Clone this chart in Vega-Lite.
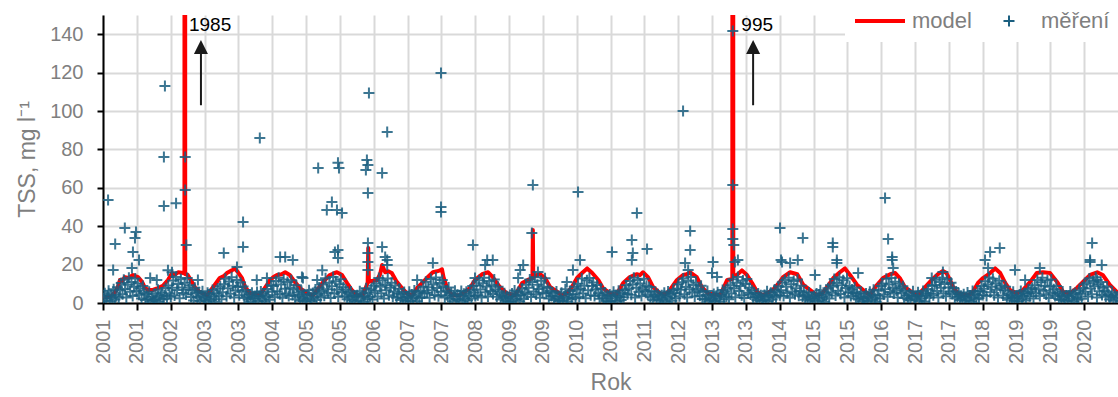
{
"$schema":"https://vega.github.io/schema/vega-lite/v6.json",
"autosize":"none","width":1015,"height":288,
"padding":{"left":103,"top":15,"right":0,"bottom":94},
"background":"white",
"config":{"view":{"stroke":null},"font":"Liberation Sans"},
"datasets":{
"model":[
{"x":2001.0,"y":3.5},{"x":2001.08,"y":3},{"x":2001.16,"y":3.5},{"x":2001.25,"y":6},{"x":2001.3,"y":9},{"x":2001.335,"y":12},{"x":2001.38,"y":11.5},{"x":2001.43,"y":13.5},{"x":2001.5,"y":13},{"x":2001.59,"y":14.6},{"x":2001.64,"y":14},{"x":2001.69,"y":13.5},{"x":2001.77,"y":11},{"x":2001.83,"y":7.8},{"x":2001.89,"y":6.8},{"x":2001.985,"y":6.8},
{"x":2002.08,"y":7.8},{"x":2002.18,"y":9},{"x":2002.28,"y":12},{"x":2002.36,"y":15.6},{"x":2002.42,"y":14.8},{"x":2002.48,"y":16},{"x":2002.58,"y":15.6},{"x":2002.605,"y":15.5},{"x":2002.612,"y":1985},{"x":2002.62,"y":15},{"x":2002.67,"y":14.6},{"x":2002.75,"y":11},{"x":2002.81,"y":8.3},{"x":2002.91,"y":5.7},
{"x":2003.05,"y":4},{"x":2003.2,"y":9.4},{"x":2003.3,"y":13},{"x":2003.38,"y":14},{"x":2003.44,"y":15.6},{"x":2003.54,"y":17},{"x":2003.6,"y":18},{"x":2003.66,"y":16},{"x":2003.74,"y":13},{"x":2003.8,"y":8.3},{"x":2003.9,"y":5},
{"x":2004.09,"y":4},{"x":2004.23,"y":9.4},{"x":2004.29,"y":12},{"x":2004.36,"y":13.5},{"x":2004.43,"y":14.6},{"x":2004.52,"y":15},{"x":2004.59,"y":16},{"x":2004.68,"y":14.6},{"x":2004.78,"y":11},{"x":2004.88,"y":7.8},
{"x":2005.02,"y":5},{"x":2005.14,"y":4},{"x":2005.22,"y":6.8},{"x":2005.34,"y":11},{"x":2005.47,"y":14.6},{"x":2005.55,"y":15.5},{"x":2005.61,"y":16},{"x":2005.71,"y":14.6},{"x":2005.81,"y":10.4},{"x":2005.9,"y":6.8},
{"x":2006.0,"y":4},{"x":2006.12,"y":4},{"x":2006.215,"y":10.5},{"x":2006.227,"y":28.6},{"x":2006.24,"y":11},{"x":2006.3,"y":11.5},{"x":2006.4,"y":12},{"x":2006.46,"y":15},{"x":2006.5,"y":19.8},{"x":2006.56,"y":16},{"x":2006.62,"y":16.5},{"x":2006.69,"y":15.6},{"x":2006.79,"y":11},{"x":2006.89,"y":7.8},{"x":2006.99,"y":5},
{"x":2007.09,"y":4},{"x":2007.19,"y":7.8},{"x":2007.29,"y":10.4},{"x":2007.38,"y":13},{"x":2007.5,"y":16},{"x":2007.58,"y":16.5},{"x":2007.64,"y":17},{"x":2007.68,"y":17.5},{"x":2007.71,"y":13.5},{"x":2007.78,"y":7.8},{"x":2007.88,"y":4},
{"x":2008.03,"y":4},{"x":2008.23,"y":7.8},{"x":2008.33,"y":12},{"x":2008.4,"y":13.5},{"x":2008.47,"y":15},{"x":2008.59,"y":16},{"x":2008.68,"y":13.5},{"x":2008.82,"y":8.3},{"x":2008.96,"y":5},
{"x":2009.12,"y":4},{"x":2009.26,"y":10.4},{"x":2009.37,"y":12},{"x":2009.462,"y":13},{"x":2009.47,"y":38},{"x":2009.478,"y":13.5},{"x":2009.54,"y":14.5},{"x":2009.61,"y":15},{"x":2009.71,"y":13},{"x":2009.81,"y":8.3},{"x":2009.9,"y":6.8},
{"x":2010.04,"y":4},{"x":2010.14,"y":5},{"x":2010.24,"y":8.3},{"x":2010.34,"y":13},{"x":2010.44,"y":15.6},{"x":2010.54,"y":18},{"x":2010.64,"y":15.6},{"x":2010.76,"y":12},{"x":2010.85,"y":7.8},{"x":2010.99,"y":5},
{"x":2011.12,"y":4.5},{"x":2011.25,"y":10.4},{"x":2011.38,"y":13.5},{"x":2011.52,"y":15},{"x":2011.58,"y":14.5},{"x":2011.64,"y":16},{"x":2011.74,"y":13.5},{"x":2011.84,"y":8.3},{"x":2011.98,"y":5},
{"x":2012.08,"y":4.5},{"x":2012.17,"y":6.8},{"x":2012.31,"y":12},{"x":2012.43,"y":14.6},{"x":2012.5,"y":15},{"x":2012.57,"y":16},{"x":2012.7,"y":13.5},{"x":2012.8,"y":8.3},{"x":2012.92,"y":5},
{"x":2013.05,"y":4.5},{"x":2013.16,"y":4},{"x":2013.3,"y":12},{"x":2013.4,"y":12.5},{"x":2013.41,"y":995},{"x":2013.42,"y":14},{"x":2013.49,"y":14.6},{"x":2013.59,"y":17},{"x":2013.69,"y":14.6},{"x":2013.79,"y":10.4},{"x":2013.89,"y":5.7},
{"x":2014.0,"y":4},{"x":2014.2,"y":6.8},{"x":2014.34,"y":11},{"x":2014.4,"y":13.5},{"x":2014.54,"y":16},{"x":2014.68,"y":15},{"x":2014.8,"y":9.4},{"x":2014.93,"y":6.8},
{"x":2015.07,"y":4},{"x":2015.17,"y":5},{"x":2015.27,"y":8.3},{"x":2015.39,"y":13},{"x":2015.52,"y":16},{"x":2015.62,"y":18},{"x":2015.72,"y":14.6},{"x":2015.86,"y":9.4},{"x":2015.98,"y":6.8},
{"x":2016.11,"y":4},{"x":2016.25,"y":9.4},{"x":2016.37,"y":13},{"x":2016.51,"y":15},{"x":2016.61,"y":15.6},{"x":2016.7,"y":13},{"x":2016.8,"y":8.3},{"x":2016.94,"y":5.7},
{"x":2017.06,"y":4},{"x":2017.2,"y":8.3},{"x":2017.33,"y":12},{"x":2017.45,"y":15},{"x":2017.55,"y":16.7},{"x":2017.62,"y":15.6},{"x":2017.69,"y":12},{"x":2017.75,"y":8.3},{"x":2017.85,"y":5},
{"x":2018.02,"y":4},{"x":2018.12,"y":5},{"x":2018.24,"y":10.4},{"x":2018.34,"y":13},{"x":2018.48,"y":15.6},{"x":2018.58,"y":18},{"x":2018.68,"y":15.6},{"x":2018.78,"y":10.4},{"x":2018.87,"y":6.8},
{"x":2019.01,"y":5},{"x":2019.13,"y":6.8},{"x":2019.27,"y":11},{"x":2019.4,"y":15.6},{"x":2019.52,"y":16},{"x":2019.66,"y":15.6},{"x":2019.8,"y":11},{"x":2019.92,"y":5.7},
{"x":2020.05,"y":5},{"x":2020.19,"y":7.8},{"x":2020.31,"y":11},{"x":2020.45,"y":14.6},{"x":2020.59,"y":16},{"x":2020.7,"y":14.6},{"x":2020.84,"y":9.4},{"x":2020.98,"y":5.7},{"x":2021.0,"y":5.5}
],
"mereni":[
{"x":2001.01,"y":2.3},{"x":2001.035,"y":5.1},{"x":2001.06,"y":1.2},{"x":2001.085,"y":3.8},{"x":2001.11,"y":6.4},{"x":2001.135,"y":0.9},{"x":2001.16,"y":4.2},{"x":2001.185,"y":2.7},{"x":2001.21,"y":7.1},{"x":2001.235,"y":1.8},{"x":2001.26,"y":3.5},{"x":2001.285,"y":8.2},{"x":2001.31,"y":2.9},{"x":2001.335,"y":6.7},{"x":2001.36,"y":10.4},{"x":2001.385,"y":4.6},{"x":2001.41,"y":12.1},{"x":2001.435,"y":7.3},{"x":2001.46,"y":2.8},{"x":2001.485,"y":9.5},{"x":2001.51,"y":13.2},{"x":2001.535,"y":5.9},{"x":2001.56,"y":11},{"x":2001.585,"y":3.6},{"x":2001.61,"y":8.4},{"x":2001.635,"y":12.8},{"x":2001.66,"y":6.2},{"x":2001.685,"y":10.1},{"x":2001.71,"y":4.3},{"x":2001.735,"y":7.6},{"x":2001.76,"y":2.4},{"x":2001.785,"y":8.9},{"x":2001.81,"y":5.3},{"x":2001.835,"y":1.6},{"x":2001.86,"y":4.7},{"x":2001.885,"y":2.1},{"x":2001.91,"y":5.8},{"x":2001.935,"y":0.8},{"x":2001.96,"y":3.3},{"x":2001.985,"y":1.5},
{"x":2002.01,"y":1.4},{"x":2002.035,"y":4.8},{"x":2002.06,"y":2.6},{"x":2002.085,"y":6.9},{"x":2002.11,"y":0.7},{"x":2002.135,"y":3.7},{"x":2002.16,"y":5.5},{"x":2002.185,"y":1.9},{"x":2002.21,"y":4.1},{"x":2002.235,"y":7.8},{"x":2002.26,"y":2.2},{"x":2002.285,"y":9.1},{"x":2002.31,"y":5},{"x":2002.335,"y":3.3},{"x":2002.36,"y":7.9},{"x":2002.385,"y":11.7},{"x":2002.41,"y":3.9},{"x":2002.435,"y":13.6},{"x":2002.46,"y":6.8},{"x":2002.485,"y":9.9},{"x":2002.51,"y":2.5},{"x":2002.535,"y":12.4},{"x":2002.56,"y":8.1},{"x":2002.585,"y":5.2},{"x":2002.61,"y":10.6},{"x":2002.635,"y":4.4},{"x":2002.66,"y":13},{"x":2002.685,"y":7},{"x":2002.71,"y":9.3},{"x":2002.735,"y":3.1},{"x":2002.76,"y":6.6},{"x":2002.785,"y":1.3},{"x":2002.81,"y":8},{"x":2002.835,"y":4.9},{"x":2002.86,"y":2.8},{"x":2002.885,"y":5.6},{"x":2002.91,"y":1.1},{"x":2002.935,"y":3.9},{"x":2002.96,"y":6.1},{"x":2002.985,"y":2},
{"x":2003.01,"y":3},{"x":2003.035,"y":0.9},{"x":2003.06,"y":5.4},{"x":2003.085,"y":2.2},{"x":2003.11,"y":4.6},{"x":2003.135,"y":1.5},{"x":2003.16,"y":6.8},{"x":2003.185,"y":3.4},{"x":2003.21,"y":0.6},{"x":2003.235,"y":5},{"x":2003.26,"y":7.5},{"x":2003.285,"y":3.8},{"x":2003.31,"y":8.7},{"x":2003.335,"y":1.9},{"x":2003.36,"y":5.6},{"x":2003.385,"y":9.8},{"x":2003.41,"y":12.6},{"x":2003.435,"y":3.5},{"x":2003.46,"y":7.7},{"x":2003.485,"y":11.2},{"x":2003.51,"y":4.8},{"x":2003.535,"y":13.4},{"x":2003.56,"y":9},{"x":2003.585,"y":2.9},{"x":2003.61,"y":6.5},{"x":2003.635,"y":12},{"x":2003.66,"y":8.3},{"x":2003.685,"y":4},{"x":2003.71,"y":10.7},{"x":2003.735,"y":5.9},{"x":2003.76,"y":8.6},{"x":2003.785,"y":2.6},{"x":2003.81,"y":6.8},{"x":2003.835,"y":3.2},{"x":2003.86,"y":1.8},{"x":2003.885,"y":4.4},{"x":2003.91,"y":0.7},{"x":2003.935,"y":5.3},{"x":2003.96,"y":2.5},{"x":2003.985,"y":3.7},
{"x":2004.01,"y":2.5},{"x":2004.035,"y":5.7},{"x":2004.06,"y":1.1},{"x":2004.085,"y":3.6},{"x":2004.11,"y":6},{"x":2004.135,"y":2},{"x":2004.16,"y":4.9},{"x":2004.185,"y":0.8},{"x":2004.21,"y":3.1},{"x":2004.235,"y":7.3},{"x":2004.26,"y":4},{"x":2004.285,"y":1.7},{"x":2004.31,"y":9.4},{"x":2004.335,"y":5.8},{"x":2004.36,"y":8.8},{"x":2004.385,"y":3},{"x":2004.41,"y":11.4},{"x":2004.435,"y":6.1},{"x":2004.46,"y":13.1},{"x":2004.485,"y":4.5},{"x":2004.51,"y":9.6},{"x":2004.535,"y":2.7},{"x":2004.56,"y":12.2},{"x":2004.585,"y":7.4},{"x":2004.61,"y":5},{"x":2004.635,"y":10.9},{"x":2004.66,"y":3.6},{"x":2004.685,"y":8},{"x":2004.71,"y":11.8},{"x":2004.735,"y":4.2},{"x":2004.76,"y":7.1},{"x":2004.785,"y":2},{"x":2004.81,"y":9.2},{"x":2004.835,"y":5.5},{"x":2004.86,"y":3.4},{"x":2004.885,"y":1.2},{"x":2004.91,"y":6.3},{"x":2004.935,"y":2.7},{"x":2004.96,"y":4.5},{"x":2004.985,"y":1},
{"x":2005.01,"y":1.9},{"x":2005.035,"y":4.3},{"x":2005.06,"y":6.6},{"x":2005.085,"y":2.4},{"x":2005.11,"y":0.9},{"x":2005.135,"y":5.2},{"x":2005.16,"y":3.3},{"x":2005.185,"y":7},{"x":2005.21,"y":1.6},{"x":2005.235,"y":4.7},{"x":2005.26,"y":8.1},{"x":2005.285,"y":2.8},{"x":2005.31,"y":6.3},{"x":2005.335,"y":9.6},{"x":2005.36,"y":3.8},{"x":2005.385,"y":12.9},{"x":2005.41,"y":7.2},{"x":2005.435,"y":5.3},{"x":2005.46,"y":10.5},{"x":2005.485,"y":2.6},{"x":2005.51,"y":8.7},{"x":2005.535,"y":13.5},{"x":2005.56,"y":4.9},{"x":2005.585,"y":11.3},{"x":2005.61,"y":6.9},{"x":2005.635,"y":3.2},{"x":2005.66,"y":9.8},{"x":2005.685,"y":12.4},{"x":2005.71,"y":5.7},{"x":2005.735,"y":8.2},{"x":2005.76,"y":3.5},{"x":2005.785,"y":6.9},{"x":2005.81,"y":1.9},{"x":2005.835,"y":5.1},{"x":2005.86,"y":2.9},{"x":2005.885,"y":6},{"x":2005.91,"y":1.4},{"x":2005.935,"y":4.1},{"x":2005.96,"y":0.8},{"x":2005.985,"y":3.5},
{"x":2006.01,"y":4},{"x":2006.035,"y":1.3},{"x":2006.06,"y":6.1},{"x":2006.085,"y":2.9},{"x":2006.11,"y":5},{"x":2006.135,"y":0.7},{"x":2006.16,"y":3.6},{"x":2006.185,"y":7.7},{"x":2006.21,"y":2.1},{"x":2006.235,"y":5.4},{"x":2006.26,"y":3.1},{"x":2006.285,"y":7},{"x":2006.31,"y":1.8},{"x":2006.335,"y":9},{"x":2006.36,"y":6.4},{"x":2006.385,"y":10.2},{"x":2006.41,"y":3.4},{"x":2006.435,"y":13},{"x":2006.46,"y":8.5},{"x":2006.485,"y":5.1},{"x":2006.51,"y":11.9},{"x":2006.535,"y":2.4},{"x":2006.56,"y":9.4},{"x":2006.585,"y":6.7},{"x":2006.61,"y":12.7},{"x":2006.635,"y":4.1},{"x":2006.66,"y":7.9},{"x":2006.685,"y":10.6},{"x":2006.71,"y":3.3},{"x":2006.735,"y":6},{"x":2006.76,"y":9.1},{"x":2006.785,"y":2.7},{"x":2006.81,"y":5},{"x":2006.835,"y":7.4},{"x":2006.86,"y":1.6},{"x":2006.885,"y":4.6},{"x":2006.91,"y":2.3},{"x":2006.935,"y":5.7},{"x":2006.96,"y":1},{"x":2006.985,"y":3.2},
{"x":2007.01,"y":2.8},{"x":2007.035,"y":5.9},{"x":2007.06,"y":1},{"x":2007.085,"y":4.4},{"x":2007.11,"y":2.2},{"x":2007.135,"y":6.5},{"x":2007.16,"y":3.5},{"x":2007.185,"y":0.9},{"x":2007.21,"y":5.6},{"x":2007.235,"y":2.6},{"x":2007.26,"y":6.2},{"x":2007.285,"y":3},{"x":2007.31,"y":8.4},{"x":2007.335,"y":4.9},{"x":2007.36,"y":11.1},{"x":2007.385,"y":5.4},{"x":2007.41,"y":8.2},{"x":2007.435,"y":2.7},{"x":2007.46,"y":12.5},{"x":2007.485,"y":6.6},{"x":2007.51,"y":9.7},{"x":2007.535,"y":4.2},{"x":2007.56,"y":13.3},{"x":2007.585,"y":7.8},{"x":2007.61,"y":3.5},{"x":2007.635,"y":10.4},{"x":2007.66,"y":5.9},{"x":2007.685,"y":12},{"x":2007.71,"y":8.6},{"x":2007.735,"y":2.9},{"x":2007.76,"y":6.5},{"x":2007.785,"y":4},{"x":2007.81,"y":8.1},{"x":2007.835,"y":2.2},{"x":2007.86,"y":5.2},{"x":2007.885,"y":0.9},{"x":2007.91,"y":3.8},{"x":2007.935,"y":6.4},{"x":2007.96,"y":2.1},{"x":2007.985,"y":4.3},
{"x":2008.01,"y":1.6},{"x":2008.035,"y":3.9},{"x":2008.06,"y":6.3},{"x":2008.085,"y":0.8},{"x":2008.11,"y":4.8},{"x":2008.135,"y":2.5},{"x":2008.16,"y":5.8},{"x":2008.185,"y":1.4},{"x":2008.21,"y":3.7},{"x":2008.235,"y":6.9},{"x":2008.26,"y":2.4},{"x":2008.285,"y":8.9},{"x":2008.31,"y":5.5},{"x":2008.335,"y":3.6},{"x":2008.36,"y":9.1},{"x":2008.385,"y":4},{"x":2008.41,"y":11.8},{"x":2008.435,"y":7},{"x":2008.46,"y":2.9},{"x":2008.485,"y":10.3},{"x":2008.51,"y":13.2},{"x":2008.535,"y":5.6},{"x":2008.56,"y":8.6},{"x":2008.585,"y":3.4},{"x":2008.61,"y":11.5},{"x":2008.635,"y":6.3},{"x":2008.66,"y":9.2},{"x":2008.685,"y":4.7},{"x":2008.71,"y":12.3},{"x":2008.735,"y":7},{"x":2008.76,"y":3.3},{"x":2008.785,"y":8.4},{"x":2008.81,"y":5.9},{"x":2008.835,"y":1.8},{"x":2008.86,"y":4},{"x":2008.885,"y":2.6},{"x":2008.91,"y":5.1},{"x":2008.935,"y":1.2},{"x":2008.96,"y":3.5},{"x":2008.985,"y":0.7},
{"x":2009.01,"y":3.3},{"x":2009.035,"y":0.8},{"x":2009.06,"y":4.9},{"x":2009.085,"y":2.3},{"x":2009.11,"y":6.5},{"x":2009.135,"y":1.7},{"x":2009.16,"y":3.9},{"x":2009.185,"y":5.9},{"x":2009.21,"y":0.9},{"x":2009.235,"y":4.2},{"x":2009.26,"y":7.6},{"x":2009.285,"y":2.1},{"x":2009.31,"y":5.3},{"x":2009.335,"y":9.5},{"x":2009.36,"y":4.6},{"x":2009.385,"y":8},{"x":2009.41,"y":12.2},{"x":2009.435,"y":3.1},{"x":2009.46,"y":10.9},{"x":2009.485,"y":6},{"x":2009.51,"y":13.4},{"x":2009.535,"y":4.4},{"x":2009.56,"y":9.5},{"x":2009.585,"y":7.3},{"x":2009.61,"y":2.7},{"x":2009.635,"y":11.6},{"x":2009.66,"y":5.4},{"x":2009.685,"y":8.5},{"x":2009.71,"y":12.9},{"x":2009.735,"y":4.9},{"x":2009.76,"y":7.9},{"x":2009.785,"y":2.4},{"x":2009.81,"y":6.2},{"x":2009.835,"y":3.7},{"x":2009.86,"y":5.4},{"x":2009.885,"y":1.5},{"x":2009.91,"y":3.2},{"x":2009.935,"y":6},{"x":2009.96,"y":2.4},{"x":2009.985,"y":1.1},
{"x":2010.01,"y":2},{"x":2010.035,"y":5.3},{"x":2010.06,"y":1.2},{"x":2010.085,"y":3.4},{"x":2010.11,"y":7.1},{"x":2010.135,"y":2.7},{"x":2010.16,"y":0.8},{"x":2010.185,"y":4.6},{"x":2010.21,"y":6.2},{"x":2010.235,"y":1.9},{"x":2010.26,"y":4.4},{"x":2010.285,"y":8.5},{"x":2010.31,"y":2.6},{"x":2010.335,"y":6.9},{"x":2010.36,"y":10},{"x":2010.385,"y":3.3},{"x":2010.41,"y":7.5},{"x":2010.435,"y":12.7},{"x":2010.46,"y":5},{"x":2010.485,"y":9},{"x":2010.51,"y":2.5},{"x":2010.535,"y":11.8},{"x":2010.56,"y":6.6},{"x":2010.585,"y":13},{"x":2010.61,"y":4},{"x":2010.635,"y":8.8},{"x":2010.66,"y":10.7},{"x":2010.685,"y":3.7},{"x":2010.71,"y":7.2},{"x":2010.735,"y":9.4},{"x":2010.76,"y":5.1},{"x":2010.785,"y":2.2},{"x":2010.81,"y":7.5},{"x":2010.835,"y":4.1},{"x":2010.86,"y":2.5},{"x":2010.885,"y":5.5},{"x":2010.91,"y":1},{"x":2010.935,"y":3.9},{"x":2010.96,"y":0.7},{"x":2010.985,"y":4.4},
{"x":2011.01,"y":1.2},{"x":2011.035,"y":3.6},{"x":2011.06,"y":5.9},{"x":2011.085,"y":2.5},{"x":2011.11,"y":4.1},{"x":2011.135,"y":0.9},{"x":2011.16,"y":6.4},{"x":2011.185,"y":3.1},{"x":2011.21,"y":1.6},{"x":2011.235,"y":5.2},{"x":2011.26,"y":3},{"x":2011.285,"y":6.8},{"x":2011.31,"y":9.2},{"x":2011.335,"y":4.5},{"x":2011.36,"y":7.6},{"x":2011.385,"y":11.4},{"x":2011.41,"y":4.3},{"x":2011.435,"y":9.6},{"x":2011.46,"y":13.1},{"x":2011.485,"y":2.8},{"x":2011.51,"y":8},{"x":2011.535,"y":12},{"x":2011.56,"y":5.8},{"x":2011.585,"y":10.2},{"x":2011.61,"y":3.7},{"x":2011.635,"y":7},{"x":2011.66,"y":12.6},{"x":2011.685,"y":6.1},{"x":2011.71,"y":9},{"x":2011.735,"y":4.4},{"x":2011.76,"y":8.3},{"x":2011.785,"y":3},{"x":2011.81,"y":6.1},{"x":2011.835,"y":1.4},{"x":2011.86,"y":3.7},{"x":2011.885,"y":5.8},{"x":2011.91,"y":2},{"x":2011.935,"y":4.6},{"x":2011.96,"y":1.3},{"x":2011.985,"y":2.9},
{"x":2012.01,"y":4.1},{"x":2012.035,"y":1.7},{"x":2012.06,"y":5.3},{"x":2012.085,"y":0.7},{"x":2012.11,"y":3.2},{"x":2012.135,"y":6},{"x":2012.16,"y":2.3},{"x":2012.185,"y":4.5},{"x":2012.21,"y":1.2},{"x":2012.235,"y":6.6},{"x":2012.26,"y":5.2},{"x":2012.285,"y":2.5},{"x":2012.31,"y":7.4},{"x":2012.335,"y":9.8},{"x":2012.36,"y":3.5},{"x":2012.385,"y":6.9},{"x":2012.41,"y":10.8},{"x":2012.435,"y":12.8},{"x":2012.46,"y":4.6},{"x":2012.485,"y":8.3},{"x":2012.51,"y":2.9},{"x":2012.535,"y":11.6},{"x":2012.56,"y":7.1},{"x":2012.585,"y":13.5},{"x":2012.61,"y":5.5},{"x":2012.635,"y":9.4},{"x":2012.66,"y":3.4},{"x":2012.685,"y":10.5},{"x":2012.71,"y":6.4},{"x":2012.735,"y":7.3},{"x":2012.76,"y":3.8},{"x":2012.785,"y":9},{"x":2012.81,"y":2.1},{"x":2012.835,"y":5.7},{"x":2012.86,"y":1.9},{"x":2012.885,"y":4.1},{"x":2012.91,"y":6.2},{"x":2012.935,"y":0.9},{"x":2012.96,"y":3},{"x":2012.985,"y":1.6},
{"x":2013.01,"y":2.4},{"x":2013.035,"y":4.7},{"x":2013.06,"y":1},{"x":2013.085,"y":3.8},{"x":2013.11,"y":5.6},{"x":2013.135,"y":2},{"x":2013.16,"y":0.8},{"x":2013.185,"y":4.3},{"x":2013.21,"y":6.8},{"x":2013.235,"y":2.9},{"x":2013.26,"y":6},{"x":2013.285,"y":3.4},{"x":2013.31,"y":8},{"x":2013.335,"y":1.9},{"x":2013.36,"y":9.3},{"x":2013.385,"y":4.9},{"x":2013.41,"y":12.4},{"x":2013.435,"y":7.6},{"x":2013.46,"y":3},{"x":2013.485,"y":10.6},{"x":2013.51,"y":13.6},{"x":2013.535,"y":6.2},{"x":2013.56,"y":8.8},{"x":2013.585,"y":4.1},{"x":2013.61,"y":11.7},{"x":2013.635,"y":2.6},{"x":2013.66,"y":9.9},{"x":2013.685,"y":12.5},{"x":2013.71,"y":5.3},{"x":2013.735,"y":8},{"x":2013.76,"y":4.4},{"x":2013.785,"y":6.7},{"x":2013.81,"y":2.8},{"x":2013.835,"y":5.2},{"x":2013.86,"y":3.1},{"x":2013.885,"y":1.4},{"x":2013.91,"y":5},{"x":2013.935,"y":2.2},{"x":2013.96,"y":4},{"x":2013.985,"y":1},
{"x":2014.01,"y":1.5},{"x":2014.035,"y":4.2},{"x":2014.06,"y":2.8},{"x":2014.085,"y":6.1},{"x":2014.11,"y":0.9},{"x":2014.135,"y":3.5},{"x":2014.16,"y":5.4},{"x":2014.185,"y":1.8},{"x":2014.21,"y":4},{"x":2014.235,"y":7},{"x":2014.26,"y":2.9},{"x":2014.285,"y":5.8},{"x":2014.31,"y":8.7},{"x":2014.335,"y":4},{"x":2014.36,"y":6.6},{"x":2014.385,"y":10.7},{"x":2014.41,"y":3.6},{"x":2014.435,"y":12},{"x":2014.46,"y":8.4},{"x":2014.485,"y":5.2},{"x":2014.51,"y":13.2},{"x":2014.535,"y":2.7},{"x":2014.56,"y":9.8},{"x":2014.585,"y":6},{"x":2014.61,"y":11.4},{"x":2014.635,"y":4.5},{"x":2014.66,"y":7.7},{"x":2014.685,"y":12.2},{"x":2014.71,"y":3.8},{"x":2014.735,"y":6.3},{"x":2014.76,"y":9},{"x":2014.785,"y":3.4},{"x":2014.81,"y":5.5},{"x":2014.835,"y":1.7},{"x":2014.86,"y":4.3},{"x":2014.885,"y":2.4},{"x":2014.91,"y":5.5},{"x":2014.935,"y":1.2},{"x":2014.96,"y":3.1},{"x":2014.985,"y":2.2},
{"x":2015.01,"y":3.6},{"x":2015.035,"y":1.1},{"x":2015.06,"y":5},{"x":2015.085,"y":2.6},{"x":2015.11,"y":4.4},{"x":2015.135,"y":6.7},{"x":2015.16,"y":1.5},{"x":2015.185,"y":3.2},{"x":2015.21,"y":0.7},{"x":2015.235,"y":5.6},{"x":2015.26,"y":4.3},{"x":2015.285,"y":7.7},{"x":2015.31,"y":2.4},{"x":2015.335,"y":9.3},{"x":2015.36,"y":5.3},{"x":2015.385,"y":8.6},{"x":2015.41,"y":12.5},{"x":2015.435,"y":3.9},{"x":2015.46,"y":10.4},{"x":2015.485,"y":6.4},{"x":2015.51,"y":13.4},{"x":2015.535,"y":4.7},{"x":2015.56,"y":9.2},{"x":2015.585,"y":11.9},{"x":2015.61,"y":2.9},{"x":2015.635,"y":7.8},{"x":2015.66,"y":12.9},{"x":2015.685,"y":5.6},{"x":2015.71,"y":8.9},{"x":2015.735,"y":3.6},{"x":2015.76,"y":7},{"x":2015.785,"y":5.2},{"x":2015.81,"y":8.1},{"x":2015.835,"y":2.3},{"x":2015.86,"y":4.8},{"x":2015.885,"y":1.8},{"x":2015.91,"y":3.5},{"x":2015.935,"y":5.9},{"x":2015.96,"y":0.9},{"x":2015.985,"y":2.6},
{"x":2016.01,"y":2.2},{"x":2016.035,"y":4.9},{"x":2016.06,"y":0.9},{"x":2016.085,"y":3.1},{"x":2016.11,"y":5.8},{"x":2016.135,"y":1.6},{"x":2016.16,"y":4.2},{"x":2016.185,"y":6.9},{"x":2016.21,"y":2.5},{"x":2016.235,"y":0.7},{"x":2016.26,"y":3.8},{"x":2016.285,"y":6.5},{"x":2016.31,"y":2.3},{"x":2016.335,"y":8.8},{"x":2016.36,"y":10.1},{"x":2016.385,"y":4.4},{"x":2016.41,"y":7.1},{"x":2016.435,"y":12.6},{"x":2016.46,"y":3.2},{"x":2016.485,"y":9.7},{"x":2016.51,"y":5.7},{"x":2016.535,"y":13},{"x":2016.56,"y":8},{"x":2016.585,"y":4.9},{"x":2016.61,"y":11.1},{"x":2016.635,"y":6.5},{"x":2016.66,"y":2.9},{"x":2016.685,"y":10},{"x":2016.71,"y":7.4},{"x":2016.735,"y":5.4},{"x":2016.76,"y":8.7},{"x":2016.785,"y":2.6},{"x":2016.81,"y":6.4},{"x":2016.835,"y":3.9},{"x":2016.86,"y":2},{"x":2016.885,"y":5},{"x":2016.91,"y":1.3},{"x":2016.935,"y":3.8},{"x":2016.96,"y":6.1},{"x":2016.985,"y":2.7},
{"x":2017.01,"y":1.8},{"x":2017.035,"y":3.5},{"x":2017.06,"y":5.6},{"x":2017.085,"y":1},{"x":2017.11,"y":4},{"x":2017.135,"y":2.3},{"x":2017.16,"y":6.2},{"x":2017.185,"y":0.8},{"x":2017.21,"y":3.8},{"x":2017.235,"y":5.1},{"x":2017.26,"y":7.1},{"x":2017.285,"y":2.9},{"x":2017.31,"y":5},{"x":2017.335,"y":8.9},{"x":2017.36,"y":4},{"x":2017.385,"y":9.4},{"x":2017.41,"y":12.1},{"x":2017.435,"y":6.3},{"x":2017.46,"y":2.8},{"x":2017.485,"y":11},{"x":2017.51,"y":7.9},{"x":2017.535,"y":13.1},{"x":2017.56,"y":5},{"x":2017.585,"y":9.9},{"x":2017.61,"y":3.5},{"x":2017.635,"y":12.4},{"x":2017.66,"y":8.1},{"x":2017.685,"y":6},{"x":2017.71,"y":10.5},{"x":2017.735,"y":4.7},{"x":2017.76,"y":7.8},{"x":2017.785,"y":2.5},{"x":2017.81,"y":6},{"x":2017.835,"y":3.3},{"x":2017.86,"y":5.1},{"x":2017.885,"y":1.6},{"x":2017.91,"y":3.6},{"x":2017.935,"y":2.3},{"x":2017.96,"y":4.6},{"x":2017.985,"y":1.2},
{"x":2018.01,"y":3},{"x":2018.035,"y":5.5},{"x":2018.06,"y":1.4},{"x":2018.085,"y":3.9},{"x":2018.11,"y":0.8},{"x":2018.135,"y":6.3},{"x":2018.16,"y":2.7},{"x":2018.185,"y":4.7},{"x":2018.21,"y":1.9},{"x":2018.235,"y":5.9},{"x":2018.26,"y":2.6},{"x":2018.285,"y":6.2},{"x":2018.31,"y":8.9},{"x":2018.335,"y":4.2},{"x":2018.36,"y":7.4},{"x":2018.385,"y":11.3},{"x":2018.41,"y":3.7},{"x":2018.435,"y":9.6},{"x":2018.46,"y":13.3},{"x":2018.485,"y":5.6},{"x":2018.51,"y":8.4},{"x":2018.535,"y":12.6},{"x":2018.56,"y":4.1},{"x":2018.585,"y":10.3},{"x":2018.61,"y":6.9},{"x":2018.635,"y":2.8},{"x":2018.66,"y":11.6},{"x":2018.685,"y":7.7},{"x":2018.71,"y":9.1},{"x":2018.735,"y":3.9},{"x":2018.76,"y":6.7},{"x":2018.785,"y":8.5},{"x":2018.81,"y":2.6},{"x":2018.835,"y":5},{"x":2018.86,"y":1.7},{"x":2018.885,"y":4.1},{"x":2018.91,"y":2.9},{"x":2018.935,"y":5.8},{"x":2018.96,"y":1},{"x":2018.985,"y":3.4},
{"x":2019.01,"y":2.6},{"x":2019.035,"y":0.9},{"x":2019.06,"y":4.4},{"x":2019.085,"y":6.2},{"x":2019.11,"y":2},{"x":2019.135,"y":3.6},{"x":2019.16,"y":5.2},{"x":2019.185,"y":1.3},{"x":2019.21,"y":4.8},{"x":2019.235,"y":7.1},{"x":2019.26,"y":3.5},{"x":2019.285,"y":5.9},{"x":2019.31,"y":8},{"x":2019.335,"y":2.3},{"x":2019.36,"y":9.2},{"x":2019.385,"y":5.1},{"x":2019.41,"y":12},{"x":2019.435,"y":7.2},{"x":2019.46,"y":3.6},{"x":2019.485,"y":10.8},{"x":2019.51,"y":13.1},{"x":2019.535,"y":6.4},{"x":2019.56,"y":9},{"x":2019.585,"y":4.4},{"x":2019.61,"y":11.9},{"x":2019.635,"y":2.6},{"x":2019.66,"y":8.4},{"x":2019.685,"y":12.3},{"x":2019.71,"y":5.4},{"x":2019.735,"y":7.2},{"x":2019.76,"y":3.6},{"x":2019.785,"y":8.8},{"x":2019.81,"y":5.1},{"x":2019.835,"y":2.1},{"x":2019.86,"y":4.4},{"x":2019.885,"y":1.5},{"x":2019.91,"y":6},{"x":2019.935,"y":3},{"x":2019.96,"y":1.1},{"x":2019.985,"y":3.9},
{"x":2020.01,"y":1.4},{"x":2020.035,"y":3.9},{"x":2020.06,"y":6},{"x":2020.085,"y":2.3},{"x":2020.11,"y":4.5},{"x":2020.135,"y":0.8},{"x":2020.16,"y":5.4},{"x":2020.185,"y":3},{"x":2020.21,"y":1.7},{"x":2020.235,"y":6.6},{"x":2020.26,"y":4.8},{"x":2020.285,"y":2.2},{"x":2020.31,"y":7.8},{"x":2020.335,"y":9.6},{"x":2020.36,"y":5.8},{"x":2020.385,"y":10.5},{"x":2020.41,"y":3.4},{"x":2020.435,"y":12.8},{"x":2020.46,"y":7.5},{"x":2020.485,"y":4.6},{"x":2020.51,"y":11.4},{"x":2020.535,"y":8.7},{"x":2020.56,"y":13.4},{"x":2020.585,"y":2.9},{"x":2020.61,"y":9.8},{"x":2020.635,"y":6.1},{"x":2020.66,"y":11},{"x":2020.685,"y":4.2},{"x":2020.71,"y":8},{"x":2020.735,"y":6.4},{"x":2020.76,"y":3.2},{"x":2020.785,"y":8.6},{"x":2020.81,"y":4.6},{"x":2020.835,"y":1.8},{"x":2020.86,"y":3.7},{"x":2020.885,"y":5.6},{"x":2020.91,"y":1.2},{"x":2020.935,"y":4.4},{"x":2020.96,"y":2.6},{"x":2020.985,"y":3.1},
{"x":2001.1,"y":53.6},{"x":2001.24,"y":30.7},{"x":2001.43,"y":39},{"x":2001.65,"y":37},{"x":2001.63,"y":33.9},{"x":2001.59,"y":26.6},{"x":2001.71,"y":22.4},{"x":2001.2,"y":17.2},{"x":2001.57,"y":18.2},{"x":2001.93,"y":13},{"x":2002.06,"y":12},
{"x":2002.22,"y":113},{"x":2002.2,"y":76},{"x":2002.2,"y":50.5},{"x":2002.44,"y":52},{"x":2002.62,"y":76},{"x":2002.62,"y":58.9},{"x":2002.64,"y":30.2},{"x":2002.28,"y":17},{"x":2002.36,"y":16},{"x":2002.87,"y":12},
{"x":2003.76,"y":42.2},{"x":2003.76,"y":29.2},{"x":2003.38,"y":26},{"x":2003.64,"y":18.8},{"x":2004.03,"y":12},{"x":2004.23,"y":13},
{"x":2004.09,"y":86},{"x":2004.49,"y":24},{"x":2004.59,"y":24},{"x":2004.74,"y":22.4},{"x":2004.92,"y":13.5},{"x":2004.94,"y":13},{"x":2005.32,"y":17},{"x":2005.22,"y":12},
{"x":2005.24,"y":70.3},{"x":2005.51,"y":52.6},{"x":2005.41,"y":48.4},{"x":2005.61,"y":48.4},{"x":2005.71,"y":46.9},{"x":2005.63,"y":73},{"x":2005.65,"y":70.3},{"x":2005.57,"y":26.6},{"x":2005.63,"y":27.6},{"x":2005.63,"y":23.4},
{"x":2006.24,"y":109.4},{"x":2006.2,"y":74.5},{"x":2006.22,"y":71.9},{"x":2006.18,"y":69.3},{"x":2006.22,"y":57.3},{"x":2006.22,"y":31.2},{"x":2006.22,"y":26},{"x":2006.22,"y":21.4},{"x":2006.22,"y":17.2},{"x":2006.5,"y":29.2},{"x":2006.6,"y":22.4},{"x":2006.6,"y":19.8},{"x":2006.56,"y":24},{"x":2006.5,"y":67.7},{"x":2006.6,"y":89},
{"x":2007.66,"y":119.8},{"x":2007.66,"y":50},{"x":2007.66,"y":47.4},{"x":2007.5,"y":20.8},{"x":2007.19,"y":12},
{"x":2008.29,"y":30.2},{"x":2008.57,"y":22.4},{"x":2008.68,"y":22.4},{"x":2008.53,"y":19.8},{"x":2008.33,"y":13},
{"x":2009.47,"y":61.5},{"x":2009.45,"y":36.5},{"x":2009.28,"y":19.8},{"x":2009.22,"y":17.2},{"x":2009.18,"y":13},{"x":2009.57,"y":16.1},
{"x":2010.36,"y":57.8},{"x":2010.4,"y":22.4},{"x":2010.26,"y":17.2},{"x":2010.14,"y":10.9},
{"x":2011.03,"y":26.6},{"x":2011.52,"y":46.9},{"x":2011.42,"y":32.8},{"x":2011.44,"y":26},{"x":2011.42,"y":22.4},{"x":2011.72,"y":28.1},
{"x":2012.43,"y":100},{"x":2012.57,"y":37.5},{"x":2012.57,"y":27.6},{"x":2012.47,"y":20.8},{"x":2012.53,"y":17.2},{"x":2013.02,"y":21.4},{"x":2013.0,"y":15.6},{"x":2013.1,"y":13.5},
{"x":2013.41,"y":141.7},{"x":2013.41,"y":61.5},{"x":2013.41,"y":38.5},{"x":2013.41,"y":33.3},{"x":2013.43,"y":30.2},{"x":2013.45,"y":21.4},{"x":2013.51,"y":22.4},
{"x":2014.34,"y":39},{"x":2014.36,"y":22.4},{"x":2014.38,"y":21.4},{"x":2014.54,"y":20.8},{"x":2014.69,"y":22.4},{"x":2014.79,"y":33.9},{"x":2015.03,"y":14.6},
{"x":2015.38,"y":31.2},{"x":2015.38,"y":29.2},{"x":2015.46,"y":22.4},{"x":2015.46,"y":20.8},{"x":2015.88,"y":15.6},
{"x":2016.41,"y":54.7},{"x":2016.47,"y":33.3},{"x":2016.55,"y":24},{"x":2016.55,"y":22.4},{"x":2016.57,"y":18.2},
{"x":2017.33,"y":13},{"x":2017.55,"y":16.1},
{"x":2018.48,"y":26.6},{"x":2018.67,"y":28.6},{"x":2018.38,"y":22.4},{"x":2018.44,"y":18.2},{"x":2018.97,"y":17.2},{"x":2019.17,"y":12},{"x":2019.46,"y":18.2},
{"x":2020.49,"y":31.2},{"x":2020.45,"y":22.4},{"x":2020.45,"y":21.4},{"x":2020.68,"y":19.8},{"x":2020.59,"y":12}
],
"arrows":[{"x":2002.93,"y":103,"y2":132,"yh":133.3,"yt":144.8,"xt":2003.11,"t":"1985"},{"x":2013.81,"y":103,"y2":132,"yh":133.3,"yt":144.8,"xt":2013.89,"t":"995"}]
},
"layer":[
{"data":{"name":"model"},
"mark":{"type":"line","strokeWidth":4,"clip":true,"strokeJoin":"round"},
"encoding":{
"x":{"field":"x","type":"quantitative","scale":{"domain":[2001,2021],"nice":false,"zero":false},
"axis":{"title":"Rok","tickCount":40,"values":[2001,2001.667,2002.333,2003,2003.667,2004.333,2005,2005.667,2006.333,2007,2007.667,2008.333,2009,2009.667,2010.333,2011,2011.667,2012.333,2013,2013.667,2014.333,2015,2015.667,2016.333,2017,2017.667,2018.333,2019,2019.667,2020.333],
"labelExpr":"'' + floor(datum.value + 0.01)","labelAngle":-90,"labelAlign":"right","labelBaseline":"middle","labelFontSize":20,"labelColor":"#7f7f7f","labelPadding":9,"labelFlush":false,"labelOverlap":false,
"tickSize":7,"tickColor":"#000000","tickWidth":2,"domainColor":"#000000","domainWidth":2,"grid":true,"gridColor":"#d9d9d9","gridWidth":2,
"titleFontSize":23,"titleColor":"#7f7f7f","titleFontWeight":"normal","titlePadding":8}},
"y":{"field":"y","type":"quantitative","scale":{"domain":[0,150],"nice":false},
"axis":{"title":"TSS, mg l⁻¹","tickCount":20,"values":[0,20,40,60,80,100,120,140],"labelFontSize":20,"labelColor":"#7f7f7f","labelPadding":14,
"tickSize":6,"tickColor":"#000000","tickWidth":2,"domainColor":"#000000","domainWidth":2,"grid":true,"gridColor":"#d9d9d9","gridWidth":2,
"titleFontSize":23,"titleColor":"#7f7f7f","titleFontWeight":"normal","titlePadding":10}},
"color":{"datum":"model","type":"nominal","scale":{"domain":["model","měření"],"range":["#ff0000","#1b5f80"]},
"legend":{"orient":"none","legendX":742,"legendY":-15,"direction":"horizontal","title":null,"labelFontSize":22,"labelColor":"#7f7f7f","labelOffset":35,"columnPadding":12,"fillColor":"white","padding":10,
"encode":{"symbols":{"update":{
"x":{"value":25},
"shape":{"signal":"datum.value === 'model' ? 'stroke' : 'M-1,0L1,0M0,-1L0,1'"},
"size":{"signal":"datum.value === 'model' ? 2500 : 121"},
"strokeWidth":{"signal":"datum.value === 'model' ? 4 : 2"},
"stroke":{"signal":"datum.value === 'model' ? '#ff0000' : '#3b7fa0'"},
"fill":{"value":"transparent"},"opacity":{"value":1}}}}}}
}},
{"data":{"name":"mereni"},
"mark":{"type":"point","shape":"M-1,0L1,0M0,-1L0,1","filled":false,"size":121,"strokeWidth":2,"opacity":0.85,"clip":true},
"encoding":{"x":{"field":"x","type":"quantitative"},"y":{"field":"y","type":"quantitative"},
"color":{"datum":"měření","type":"nominal"}}},
{"data":{"name":"arrows"},
"mark":{"type":"rule","strokeWidth":2,"color":"#1a1a1a"},
"encoding":{"x":{"field":"x","type":"quantitative"},"y":{"field":"y","type":"quantitative"},"y2":{"field":"y2"}}},
{"data":{"name":"arrows"},
"mark":{"type":"point","shape":"M0,-1L1,1L-1,1Z","filled":true,"size":196,"color":"#1a1a1a","opacity":1},
"encoding":{"x":{"field":"x","type":"quantitative"},"y":{"field":"yh","type":"quantitative"}}},
{"data":{"name":"arrows"},
"mark":{"type":"text","fontSize":19,"color":"#000000","align":"center","baseline":"middle","font":"Liberation Sans"},
"encoding":{"x":{"field":"xt","type":"quantitative"},"y":{"field":"yt","type":"quantitative"},"text":{"field":"t"}}}
]
}
